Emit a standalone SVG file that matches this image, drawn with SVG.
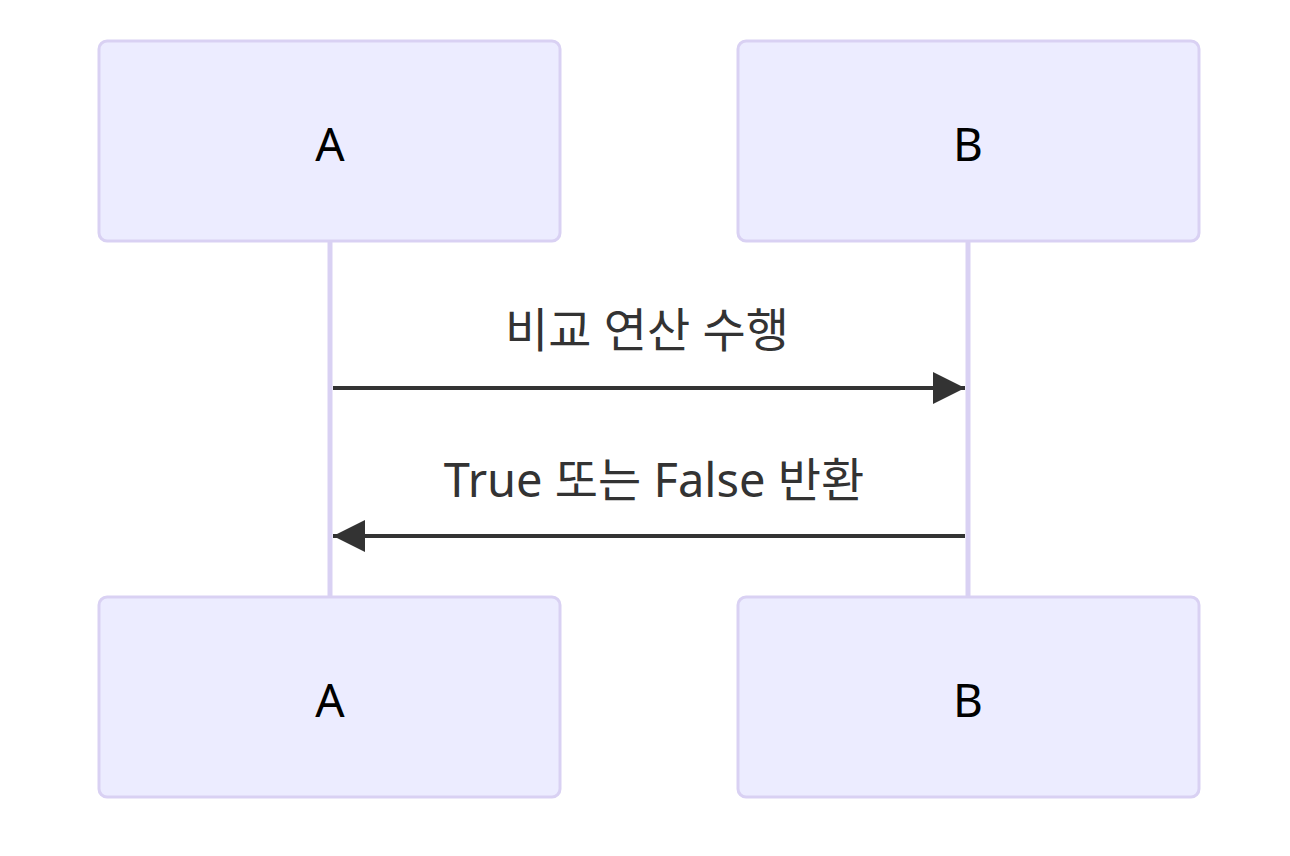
<svg xmlns="http://www.w3.org/2000/svg" width="1290" height="856" viewBox="0 0 1290 856">
<defs>
<style>
.actor{fill:#ECECFF;stroke:#D9D1F3;stroke-width:3}
.life{stroke:#D9D1F3;stroke-width:5}
.atext{font-family:"Noto Sans","Noto Sans CJK KR",sans-serif;font-size:46px;fill:#000;text-anchor:middle;dominant-baseline:central}
.mtext{font-family:"Noto Sans","Noto Sans CJK KR",sans-serif;font-size:47px;fill:#333;text-anchor:middle}
.msg{stroke:#333;stroke-width:4;fill:none}
</style>
<marker id="arrow" viewBox="0 0 12 12" refX="12" refY="6" markerWidth="8" markerHeight="8" markerUnits="strokeWidth" orient="auto">
<path d="M0,0 L12,6 L0,12 z" fill="#333"/>
</marker>
</defs>
<rect width="1290" height="856" fill="#fff"/>
<g id="lifelines">
<line class="life" x1="330" y1="241" x2="330" y2="597"/>
<line class="life" x1="968" y1="241" x2="968" y2="597"/>
</g>
<g id="actor-A-top"><rect class="actor" x="99" y="41" width="461" height="200" rx="8"/><text class="atext" x="330" y="143">A</text></g>
<g id="actor-B-top"><rect class="actor" x="738" y="41" width="461" height="200" rx="8"/><text class="atext" x="968" y="143">B</text></g>
<g id="actor-A-bottom"><rect class="actor" x="99" y="597" width="461" height="200" rx="8"/><text class="atext" x="330" y="699">A</text></g>
<g id="actor-B-bottom"><rect class="actor" x="738" y="597" width="461" height="200" rx="8"/><text class="atext" x="968" y="699">B</text></g>
<g id="connectors">
<line class="msg" x1="333" y1="388" x2="965" y2="388" marker-end="url(#arrow)"/>
<line class="msg" x1="965" y1="536" x2="333" y2="536" marker-end="url(#arrow)"/>
</g>
<g id="labels">
<text class="mtext" x="647" y="347">비교 연산 수행</text>
<text class="mtext" x="654" y="497">True 또는 False 반환</text>
</g>
</svg>
